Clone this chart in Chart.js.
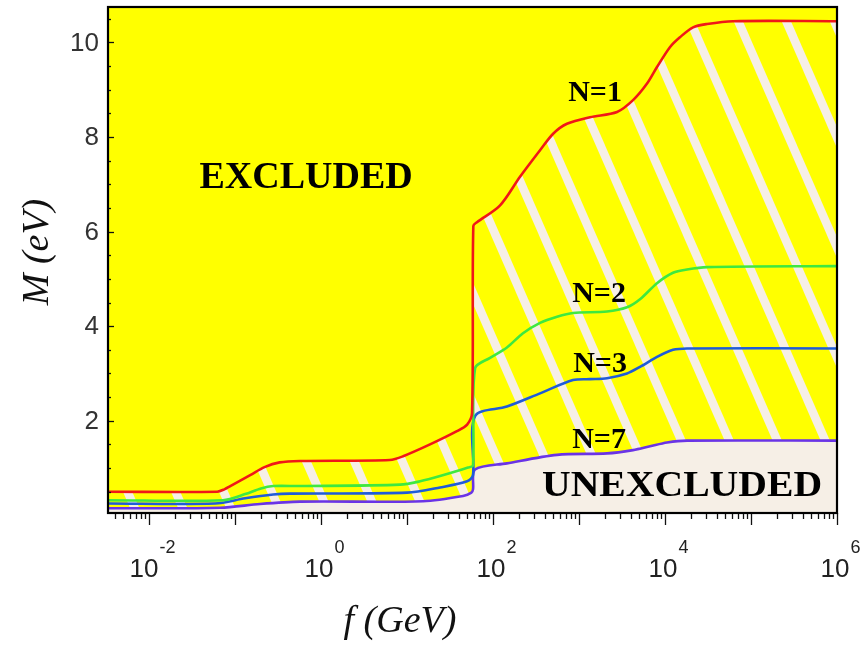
<!DOCTYPE html>
<html><head><meta charset="utf-8">
<script src="https://cdn.jsdelivr.net/npm/chart.js@4"></script>
<style>html,body{margin:0;padding:0;background:#fff;}canvas{display:block;}</style>
</head><body>
<canvas id="c" width="868" height="649"></canvas>
<script>
// f in GeV, M in eV
const fN1 = [0.00333, 0.062, 0.075, 0.088, 0.15, 0.22, 0.33, 0.57, 6.3, 9.0, 18.5, 38, 50, 57, 59, 65, 120, 206, 352, 500, 724, 1340, 2770, 4250, 6180, 8070, 11400, 14900, 21200, 30800, 61800, 1e6];
const mN1 = [0.5, 0.5, 0.55, 0.62, 0.85, 1.02, 1.12, 1.15, 1.17, 1.25, 1.5, 1.78, 1.92, 2.17, 6.12, 6.2, 6.55, 7.16, 7.72, 8.07, 8.28, 8.42, 8.53, 8.78, 9.13, 9.48, 9.9, 10.11, 10.32, 10.39, 10.45, 10.45];
const fN2 = [0.00333, 0.0724, 0.131, 0.2, 0.277, 0.57, 8.3, 14.2, 24.2, 51.2, 58.5, 61.8, 92.3, 145, 223, 352, 555, 851, 2118, 3614, 5120, 8072, 12390, 18030, 30760, 1e6];
const mN2 = [0.32, 0.32, 0.45, 0.57, 0.62, 0.62, 0.65, 0.72, 0.83, 1.01, 1.06, 3.11, 3.33, 3.55, 3.85, 4.07, 4.2, 4.28, 4.31, 4.4, 4.57, 4.91, 5.13, 5.2, 5.25, 5.27];
const fN3 = [0.00333, 0.0585, 0.131, 0.277, 0.436, 10, 24.2, 49.9, 58.5, 61.8, 145, 352, 851, 1340, 2118, 3614, 5120, 8072, 12390, 18030, 1e6];
const mN3 = [0.25, 0.25, 0.36, 0.44, 0.46, 0.48, 0.59, 0.72, 0.85, 2.1, 2.3, 2.58, 2.86, 2.88, 2.9, 3.0, 3.14, 3.35, 3.5, 3.53, 3.53];
const fN7 = [0.00333, 0.067, 0.195, 0.57, 15.3, 44.8, 56, 58.5, 61.8, 145, 555, 2118, 4246, 6700, 10550, 18030, 1e6];
const mN7 = [0.15, 0.16, 0.24, 0.29, 0.30, 0.41, 0.48, 0.55, 0.97, 1.1, 1.28, 1.31, 1.38, 1.46, 1.54, 1.58, 1.58];

const xTickExponents = [-2, 0, 2, 4, 6];
const yTickLabels = [2, 4, 6, 8, 10];
const curveNames = ['N=1', 'N=2', 'N=3', 'N=7'];
const regionNames = ['EXCLUDED', 'UNEXCLUDED'];
const xTitle = 'f (GeV)';
const yTitle = 'M (eV)';

const YELLOW = '#ffff00', BEIGE = '#f6efe6';

function stripePattern(ctx) {
  const W = 48, H = 110, c = 9;
  const t = document.createElement('canvas');
  t.width = W; t.height = H;
  const g = t.getContext('2d');
  g.fillStyle = YELLOW; g.fillRect(0, 0, W, H);
  g.strokeStyle = BEIGE; g.lineWidth = 8.5;
  for (let j = -3; j <= 3; j++) {
    g.beginPath();
    g.moveTo(c + j * W - W, -H);
    g.lineTo(c + j * W + 2 * W, 2 * H);
    g.stroke();
  }
  return ctx.createPattern(t, 'repeat');
}

const toPts = (f, m) => f.map((v, i) => ({ x: v, y: m[i] }));
const canvas = document.getElementById('c');
const ctx = canvas.getContext('2d');

const bgPlugin = {
  id: 'bg',
  beforeDraw(chart) {
    const a = chart.chartArea, g = chart.ctx;
    g.save();
    g.fillStyle = YELLOW;
    g.fillRect(a.left, a.top, a.right - a.left, a.bottom - a.top);
    g.restore();
  }
};

const decoPlugin = {
  id: 'deco',
  afterDraw(chart) {
    const a = chart.chartArea, g = chart.ctx;
    const xs = chart.scales.x, ys = chart.scales.y;
    g.save();
    // ticks
    g.strokeStyle = '#111'; g.lineWidth = 1.3;
    for (let e = -3; e <= 6; e++) {
      for (let m = 1; m <= 9; m++) {
        const v = m * Math.pow(10, e);
        if (v < xs.min * 0.999 || v > xs.max * 1.001) continue;
        const px = Math.round(xs.getPixelForValue(v)) + 0.5;
        const len = m === 1 ? 12 : 6;
        g.beginPath(); g.moveTo(px, a.bottom); g.lineTo(px, a.bottom + len); g.stroke();
      }
    }
    for (let v = 0.5; v <= 10.5; v += 0.5) {
      const py = Math.round(ys.getPixelForValue(v)) + 0.5;
      const len = (v % 2 === 0) ? 6 : 3;
      g.beginPath(); g.moveTo(a.left, py); g.lineTo(a.left + len, py); g.stroke();
    }
    // frame
    g.strokeStyle = '#000'; g.lineWidth = 2.2;
    g.strokeRect(a.left, a.top, a.right - a.left, a.bottom - a.top);
    // y labels
    g.fillStyle = '#333';
    g.font = '26px "Liberation Sans", Arial, sans-serif';
    g.textAlign = 'right'; g.textBaseline = 'middle';
    yTickLabels.forEach(v => g.fillText(String(v), 99, ys.getPixelForValue(v) + 1));
    // x labels
    g.fillStyle = '#222';
    g.textAlign = 'left'; g.textBaseline = 'alphabetic';
    xTickExponents.forEach(e => {
      const px = xs.getPixelForValue(Math.pow(10, e));
      g.font = '26px "Liberation Sans", Arial, sans-serif';
      const w10 = g.measureText('10').width;
      g.font = '18px "Liberation Sans", Arial, sans-serif';
      const sup = String(e);
      const ws = g.measureText(sup).width;
      const x0 = px - (w10 + ws) / 2 + 3;
      g.font = '26px "Liberation Sans", Arial, sans-serif';
      g.fillText('10', x0, 577);
      g.font = '18px "Liberation Sans", Arial, sans-serif';
      g.fillText(sup, x0 + w10 + 1, 553);
    });
    // axis titles
    g.fillStyle = '#111';
    g.font = 'italic 38px "Liberation Serif", "Times New Roman", serif';
    g.textAlign = 'center'; g.textBaseline = 'middle';
    g.fillText(xTitle, 400, 622);
    g.save();
    g.translate(38, 252); g.rotate(-Math.PI / 2);
    g.fillText(yTitle, 0, 0);
    g.restore();
    // annotations (anchored in data coordinates)
    const at = (f, m) => [xs.getPixelForValue(f), ys.getPixelForValue(m)];
    g.textAlign = 'center'; g.textBaseline = 'alphabetic'; g.fillStyle = '#000';
    g.font = 'bold 30px "Liberation Serif", "Times New Roman", serif';
    const curveAnchors = [[1535, 8.76], [1709, 4.51], [1755, 3.03], [1709, 1.42]];
    curveNames.forEach((t, i) => { const [x, y] = at(...curveAnchors[i]); g.fillText(t, x, y); });
    g.font = 'bold 38px "Liberation Serif", "Times New Roman", serif';
    let [ex, ey] = at(0.67, 6.92);
    g.fillText(regionNames[0], ex, ey);
    g.font = 'bold 36px "Liberation Serif", "Times New Roman", serif';
    let [ux, uy] = at(15780, 0.41);
    const uw = g.measureText(regionNames[1]).width;
    g.save(); g.translate(ux, uy); g.scale(280 / uw, 1); g.fillText(regionNames[1], 0, 0); g.restore();
    g.restore();
  }
};

const lineDs = (label, f, m, color) => ({
  label, data: toPts(f, m), borderColor: color, borderWidth: 2.6, pointRadius: 0,
  tension: 0.3, fill: false
});
const d1 = lineDs(curveNames[0], fN1, mN1, '#f01818');
d1.fill = { target: 3 }; d1.backgroundColor = stripePattern(ctx);
const d2 = lineDs(curveNames[1], fN2, mN2, '#3fe83f');
const d3 = lineDs(curveNames[2], fN3, mN3, '#1f5cd8');
const d7 = lineDs(curveNames[3], fN7, mN7, '#6a34e6');
d7.fill = 'start'; d7.backgroundColor = BEIGE;

new Chart(ctx, {
  type: 'line',
  data: { datasets: [d1, d2, d3, d7] },
  options: {
    responsive: false, animation: false,
    layout: { padding: { left: 108, right: 31, top: 7, bottom: 136 } },
    scales: {
      x: { type: 'logarithmic', min: 0.00333, max: 1e6, display: false },
      y: { type: 'linear', min: 0.05, max: 10.75, display: false }
    },
    plugins: { legend: { display: false }, tooltip: { enabled: false }, filler: { drawTime: 'beforeDatasetsDraw' } },
    elements: { line: { borderJoinStyle: 'round', borderCapStyle: 'round' } }
  },
  plugins: [bgPlugin, decoPlugin]
});
</script>
</body></html>
